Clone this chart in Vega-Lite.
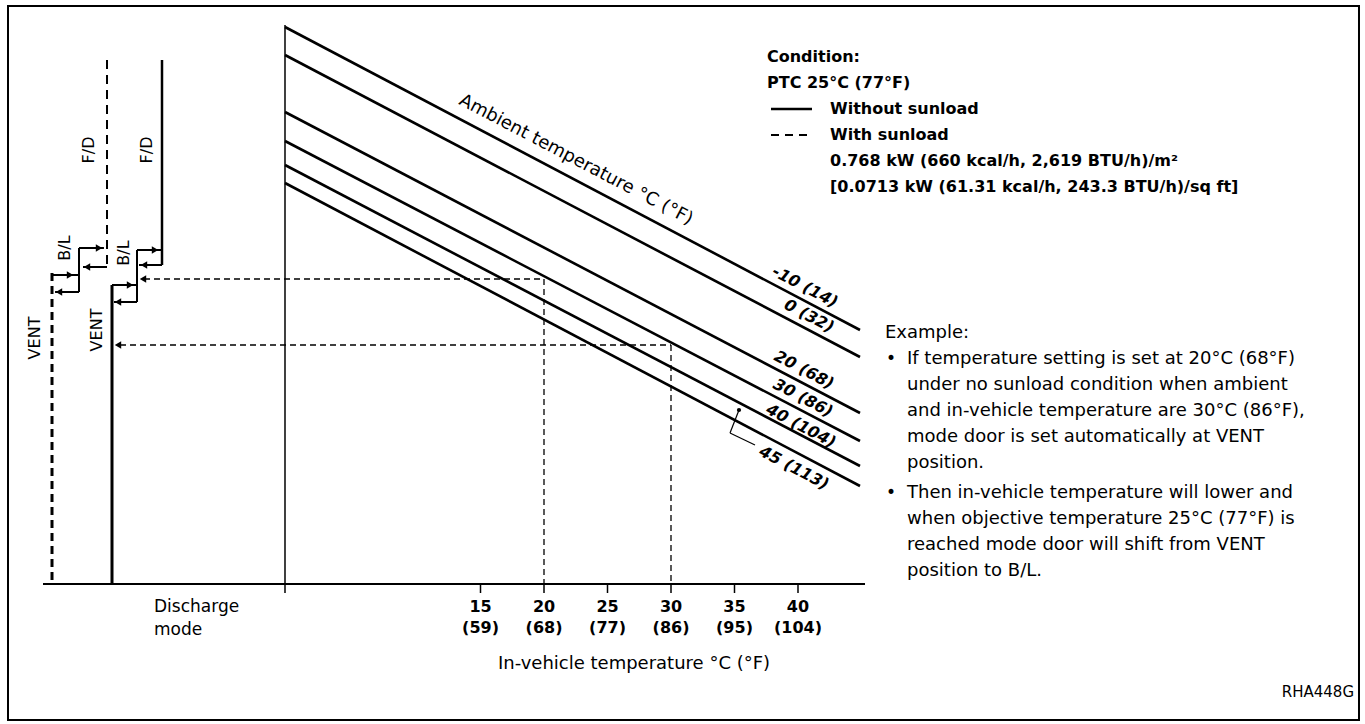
{
  "$schema": "https://vega.github.io/schema/vega-lite/v6.json",
  "width": 1365,
  "height": 724,
  "autosize": {"type": "fit", "contains": "padding"},
  "padding": 0,
  "background": "white",
  "view": {"stroke": null},
  "data": {"values": [
    {"kind": "frame", "t0": -22.205, "v0": 103.214, "t1": 84.173, "v1": -24.286},
    {"kind": "ambient", "amb": "-10", "t0": -0.394, "v0": 99.464, "t1": 44.882, "v1": 45.357},
    {"kind": "ambient", "amb": "0", "t0": -0.394, "v0": 94.464, "t1": 44.882, "v1": 40.536},
    {"kind": "ambient", "amb": "20", "t0": -0.394, "v0": 84.286, "t1": 44.882, "v1": 30.536},
    {"kind": "ambient", "amb": "30", "t0": -0.394, "v0": 79.107, "t1": 44.882, "v1": 25.536},
    {"kind": "ambient", "amb": "40", "t0": -0.394, "v0": 74.821, "t1": 44.882, "v1": 21.071},
    {"kind": "ambient", "amb": "45", "t0": -0.394, "v0": 71.607, "t1": 44.882, "v1": 17.5},
    {"kind": "haxis", "t0": -19.449, "v0": 0, "t1": 45.276, "v1": 0},
    {"kind": "vaxis", "t0": -0.394, "v0": 99.821, "t1": -0.394, "v1": -1.607},
    {"kind": "tick", "t0": 15, "v0": 0, "t1": 15, "v1": -1.607},
    {"kind": "tick", "t0": 20, "v0": 0, "t1": 20, "v1": -1.607},
    {"kind": "tick", "t0": 25, "v0": 0, "t1": 25, "v1": -1.607},
    {"kind": "tick", "t0": 30, "v0": 0, "t1": 30, "v1": -1.607},
    {"kind": "tick", "t0": 35, "v0": 0, "t1": 35, "v1": -1.607},
    {"kind": "tick", "t0": 40, "v0": 0, "t1": 40, "v1": -1.607},
    {"kind": "example", "t0": -11.496, "v0": 54.464, "t1": 20, "v1": 54.464},
    {"kind": "example", "t0": 20, "v0": 54.464, "t1": 20, "v1": 0},
    {"kind": "example", "t0": -13.386, "v0": 42.679, "t1": 30, "v1": 42.679},
    {"kind": "example", "t0": 30, "v0": 42.679, "t1": 30, "v1": 0},
    {"kind": "sun_vent", "t0": -18.74, "v0": 0.714, "t1": -18.74, "v1": 55.536},
    {"kind": "step", "t0": -18.74, "v0": 55.179, "t1": -16.614, "v1": 55.179},
    {"kind": "step", "t0": -16.614, "v0": 60, "t1": -16.614, "v1": 52.143},
    {"kind": "step", "t0": -16.614, "v0": 52.143, "t1": -18.5, "v1": 52.143},
    {"kind": "step", "t0": -16.614, "v0": 60, "t1": -14.65, "v1": 60},
    {"kind": "step", "t0": -14.409, "v0": 56.607, "t1": -16.3, "v1": 56.607},
    {"kind": "sun_fd", "t0": -14.409, "v0": 93.571, "t1": -14.409, "v1": 56.607},
    {"kind": "nosun_vent", "t0": -14.016, "v0": 0, "t1": -14.016, "v1": 53.393},
    {"kind": "step", "t0": -14.016, "v0": 53.393, "t1": -12.047, "v1": 53.393},
    {"kind": "step", "t0": -12.047, "v0": 59.643, "t1": -12.047, "v1": 50.357},
    {"kind": "step", "t0": -12.047, "v0": 50.357, "t1": -13.858, "v1": 50.357},
    {"kind": "step", "t0": -12.047, "v0": 59.643, "t1": -10.157, "v1": 59.643},
    {"kind": "step", "t0": -10.079, "v0": 56.964, "t1": -11.89, "v1": 56.964},
    {"kind": "nosun_fd", "t0": -10.079, "v0": 93.571, "t1": -10.079, "v1": 56.964},
    {"kind": "leader", "t0": 35.354, "v0": 31.071, "t1": 34.646, "v1": 26.964},
    {"kind": "leader", "t0": 34.646, "v0": 26.964, "t1": 36.614, "v1": 24.821},
    {"kind": "dot", "t0": 35.354, "v0": 31.071},
    {"kind": "legend_solid", "t0": 37.874, "v0": 84.821, "t1": 41.102, "v1": 84.821},
    {"kind": "legend_dashed", "t0": 37.874, "v0": 80.179, "t1": 41.102, "v1": 80.179},
    {"kind": "arrow", "dir": "left", "t0": -11.575, "v0": 54.464},
    {"kind": "arrow", "dir": "left", "t0": -13.543, "v0": 42.679},
    {"kind": "arrow", "dir": "right", "t0": -17.323, "v0": 55.179},
    {"kind": "arrow", "dir": "left", "t0": -18.189, "v0": 52.143},
    {"kind": "arrow", "dir": "right", "t0": -15.039, "v0": 60},
    {"kind": "arrow", "dir": "left", "t0": -15.984, "v0": 56.607},
    {"kind": "arrow", "dir": "right", "t0": -12.598, "v0": 53.393},
    {"kind": "arrow", "dir": "left", "t0": -13.543, "v0": 50.357},
    {"kind": "arrow", "dir": "right", "t0": -10.63, "v0": 59.643},
    {"kind": "arrow", "dir": "left", "t0": -11.496, "v0": 56.964},
    {"kind": "cond", "t0": 37.559, "v0": 94.107, "txt": "Condition:"},
    {"kind": "cond", "t0": 37.559, "v0": 89.464, "txt": "PTC 25°C (77°F)"},
    {"kind": "cond", "t0": 42.52, "v0": 84.821, "txt": "Without sunload"},
    {"kind": "cond", "t0": 42.52, "v0": 80.179, "txt": "With sunload"},
    {"kind": "cond", "t0": 42.52, "v0": 75.536, "txt": "0.768 kW (660 kcal/h, 2,619 BTU/h)/m²"},
    {"kind": "cond", "t0": 42.52, "v0": 70.893, "txt": "[0.0713 kW (61.31 kcal/h, 243.3 BTU/h)/sq ft]"},
    {"kind": "ex", "t0": 46.85, "v0": 44.821, "txt": "Example:"},
    {"kind": "ex", "t0": 48.583, "v0": 40.179, "txt": "If temperature setting is set at 20°C (68°F)"},
    {"kind": "ex", "t0": 48.583, "v0": 35.536, "txt": "under no sunload condition when ambient"},
    {"kind": "ex", "t0": 48.583, "v0": 30.893, "txt": "and in-vehicle temperature are 30°C (86°F),"},
    {"kind": "ex", "t0": 48.583, "v0": 26.25, "txt": "mode door is set automatically at VENT"},
    {"kind": "ex", "t0": 48.583, "v0": 21.607, "txt": "position."},
    {"kind": "ex", "t0": 48.583, "v0": 16.25, "txt": "Then in-vehicle temperature will lower and"},
    {"kind": "ex", "t0": 48.583, "v0": 11.607, "txt": "when objective temperature 25°C (77°F) is"},
    {"kind": "ex", "t0": 48.583, "v0": 6.964, "txt": "reached mode door will shift from VENT"},
    {"kind": "ex", "t0": 48.583, "v0": 2.321, "txt": "position to B/L."},
    {"kind": "bullet", "t0": 47.323, "v0": 40.179, "txt": "•"},
    {"kind": "bullet", "t0": 47.323, "v0": 16.25, "txt": "•"},
    {"kind": "vlabel", "t0": -20.079, "v0": 43.929, "txt": "VENT"},
    {"kind": "vlabel", "t0": -15.197, "v0": 45.357, "txt": "VENT"},
    {"kind": "vlabel", "t0": -15.827, "v0": 77.5, "txt": "F/D"},
    {"kind": "vlabel", "t0": -11.26, "v0": 77.5, "txt": "F/D"},
    {"kind": "vlabel", "t0": -17.717, "v0": 60, "txt": "B/L"},
    {"kind": "vlabel", "t0": -13.071, "v0": 59.107, "txt": "B/L"},
    {"kind": "ambtitle", "t0": 22.52, "v0": 75.714, "txt": "Ambient temperature °C (°F)"},
    {"kind": "amblabel", "t0": 40.551, "v0": 53.036, "txt": "-10 (14)"},
    {"kind": "amblabel", "t0": 40.866, "v0": 47.857, "txt": "0 (32)"},
    {"kind": "amblabel", "t0": 40.472, "v0": 38.214, "txt": "20 (68)"},
    {"kind": "amblabel", "t0": 40.394, "v0": 33.214, "txt": "30 (86)"},
    {"kind": "amblabel", "t0": 40.236, "v0": 28.214, "txt": "40 (104)"},
    {"kind": "amblabel", "t0": 39.685, "v0": 20.714, "txt": "45 (113)"},
    {"kind": "ticklabel", "t0": 15, "v0": -4.107, "txt": "15"},
    {"kind": "ticklabel", "t0": 20, "v0": -4.107, "txt": "20"},
    {"kind": "ticklabel", "t0": 25, "v0": -4.107, "txt": "25"},
    {"kind": "ticklabel", "t0": 30, "v0": -4.107, "txt": "30"},
    {"kind": "ticklabel", "t0": 35, "v0": -4.107, "txt": "35"},
    {"kind": "ticklabel", "t0": 40, "v0": -4.107, "txt": "40"},
    {"kind": "ticklabel", "t0": 15, "v0": -7.857, "txt": "(59)"},
    {"kind": "ticklabel", "t0": 20, "v0": -7.857, "txt": "(68)"},
    {"kind": "ticklabel", "t0": 25, "v0": -7.857, "txt": "(77)"},
    {"kind": "ticklabel", "t0": 30, "v0": -7.857, "txt": "(86)"},
    {"kind": "ticklabel", "t0": 35, "v0": -7.857, "txt": "(95)"},
    {"kind": "ticklabel", "t0": 40, "v0": -7.857, "txt": "(104)"},
    {"kind": "note", "t0": -10.709, "v0": -4.107, "txt": "Discharge"},
    {"kind": "note", "t0": -10.709, "v0": -8.214, "txt": "mode"},
    {"kind": "title", "t0": 27.087, "v0": -14.286, "txt": "In-vehicle temperature °C (°F)"},
    {"kind": "code", "t0": 83.78, "v0": -19.286, "txt": "RHA448G"}
  ]},
  "encoding": {
    "x": {"field": "t0", "type": "quantitative", "scale": {"domain": [-22.835, 84.646], "nice": false, "zero": false}, "axis": null},
    "y": {"field": "v0", "type": "quantitative", "scale": {"domain": [-25, 104.2857], "nice": false, "zero": false}, "axis": null}
  },
  "layer": [
    {"transform": [{"filter": "datum.kind == 'frame'"}], "mark": {"type": "rect", "fill": "transparent", "stroke": "black", "strokeWidth": 2}, "encoding": {"x2": {"field": "t1"}, "y2": {"field": "v1"}}},
    {"transform": [{"filter": "datum.kind == 'ambient'"}], "mark": {"type": "rule", "color": "black", "strokeWidth": 2.6}, "encoding": {"x2": {"field": "t1"}, "y2": {"field": "v1"}}},
    {"transform": [{"filter": "datum.kind == 'haxis'"}], "mark": {"type": "rule", "color": "black", "strokeWidth": 2}, "encoding": {"x2": {"field": "t1"}, "y2": {"field": "v1"}}},
    {"transform": [{"filter": "datum.kind == 'vaxis'"}], "mark": {"type": "rule", "color": "black", "strokeWidth": 1.5}, "encoding": {"x2": {"field": "t1"}, "y2": {"field": "v1"}}},
    {"transform": [{"filter": "datum.kind == 'tick'"}], "mark": {"type": "rule", "color": "black", "strokeWidth": 1.5}, "encoding": {"x2": {"field": "t1"}, "y2": {"field": "v1"}}},
    {"transform": [{"filter": "datum.kind == 'example'"}], "mark": {"type": "rule", "color": "black", "strokeWidth": 1.3, "strokeDash": [6, 4]}, "encoding": {"x2": {"field": "t1"}, "y2": {"field": "v1"}}},
    {"transform": [{"filter": "datum.kind == 'sun_vent'"}], "mark": {"type": "rule", "color": "black", "strokeWidth": 3, "strokeDash": [8, 5]}, "encoding": {"x2": {"field": "t1"}, "y2": {"field": "v1"}}},
    {"transform": [{"filter": "datum.kind == 'sun_fd'"}], "mark": {"type": "rule", "color": "black", "strokeWidth": 2, "strokeDash": [9, 6]}, "encoding": {"x2": {"field": "t1"}, "y2": {"field": "v1"}}},
    {"transform": [{"filter": "datum.kind == 'step'"}], "mark": {"type": "rule", "color": "black", "strokeWidth": 2}, "encoding": {"x2": {"field": "t1"}, "y2": {"field": "v1"}}},
    {"transform": [{"filter": "datum.kind == 'nosun_vent'"}], "mark": {"type": "rule", "color": "black", "strokeWidth": 3}, "encoding": {"x2": {"field": "t1"}, "y2": {"field": "v1"}}},
    {"transform": [{"filter": "datum.kind == 'nosun_fd'"}], "mark": {"type": "rule", "color": "black", "strokeWidth": 2.5}, "encoding": {"x2": {"field": "t1"}, "y2": {"field": "v1"}}},
    {"transform": [{"filter": "datum.kind == 'leader'"}], "mark": {"type": "rule", "color": "black", "strokeWidth": 1.2}, "encoding": {"x2": {"field": "t1"}, "y2": {"field": "v1"}}},
    {"transform": [{"filter": "datum.kind == 'legend_solid'"}], "mark": {"type": "rule", "color": "black", "strokeWidth": 2.5}, "encoding": {"x2": {"field": "t1"}, "y2": {"field": "v1"}}},
    {"transform": [{"filter": "datum.kind == 'legend_dashed'"}], "mark": {"type": "rule", "color": "black", "strokeWidth": 2, "strokeDash": [8, 6]}, "encoding": {"x2": {"field": "t1"}, "y2": {"field": "v1"}}},
    {"transform": [{"filter": "datum.kind == 'arrow'"}], "mark": {"type": "point", "filled": true, "color": "black", "opacity": 1, "size": 55}, "encoding": {"shape": {"field": "dir", "type": "nominal", "scale": {"domain": ["left", "right"], "range": ["triangle-left", "triangle-right"]}, "legend": null}}},
    {"transform": [{"filter": "datum.kind == 'dot'"}], "mark": {"type": "point", "filled": true, "color": "black", "opacity": 1, "size": 18, "shape": "circle"}},
    {"transform": [{"filter": "datum.kind == 'cond'"}], "mark": {"type": "text", "font": "DejaVu Sans", "fontWeight": "bold", "fontSize": 16, "align": "left", "baseline": "middle", "color": "black"}, "encoding": {"text": {"field": "txt"}}},
    {"transform": [{"filter": "datum.kind == 'ex'"}], "mark": {"type": "text", "font": "DejaVu Sans", "fontSize": 18, "align": "left", "baseline": "middle", "color": "black"}, "encoding": {"text": {"field": "txt"}}},
    {"transform": [{"filter": "datum.kind == 'bullet'"}], "mark": {"type": "text", "font": "DejaVu Sans", "fontSize": 17, "align": "center", "baseline": "middle", "color": "black"}, "encoding": {"text": {"field": "txt"}}},
    {"transform": [{"filter": "datum.kind == 'vlabel'"}], "mark": {"type": "text", "font": "DejaVu Sans", "fontSize": 16, "align": "center", "baseline": "middle", "angle": 270, "color": "black"}, "encoding": {"text": {"field": "txt"}}},
    {"transform": [{"filter": "datum.kind == 'ambtitle'"}], "mark": {"type": "text", "font": "DejaVu Sans", "fontSize": 18, "align": "center", "baseline": "middle", "angle": 27.7, "color": "black"}, "encoding": {"text": {"field": "txt"}}},
    {"transform": [{"filter": "datum.kind == 'amblabel'"}], "mark": {"type": "text", "font": "DejaVu Sans", "fontSize": 16, "fontWeight": "bold", "fontStyle": "italic", "align": "center", "baseline": "middle", "angle": 27.7, "color": "black"}, "encoding": {"text": {"field": "txt"}}},
    {"transform": [{"filter": "datum.kind == 'ticklabel'"}], "mark": {"type": "text", "font": "DejaVu Sans", "fontSize": 16, "fontWeight": "bold", "align": "center", "baseline": "middle", "color": "black"}, "encoding": {"text": {"field": "txt"}}},
    {"transform": [{"filter": "datum.kind == 'note'"}], "mark": {"type": "text", "font": "DejaVu Sans", "fontSize": 17, "align": "left", "baseline": "middle", "color": "black"}, "encoding": {"text": {"field": "txt"}}},
    {"transform": [{"filter": "datum.kind == 'title'"}], "mark": {"type": "text", "font": "DejaVu Sans", "fontSize": 18, "align": "center", "baseline": "middle", "color": "black"}, "encoding": {"text": {"field": "txt"}}},
    {"transform": [{"filter": "datum.kind == 'code'"}], "mark": {"type": "text", "font": "DejaVu Sans", "fontSize": 15, "align": "right", "baseline": "middle", "color": "black"}, "encoding": {"text": {"field": "txt"}}}
  ]
}
